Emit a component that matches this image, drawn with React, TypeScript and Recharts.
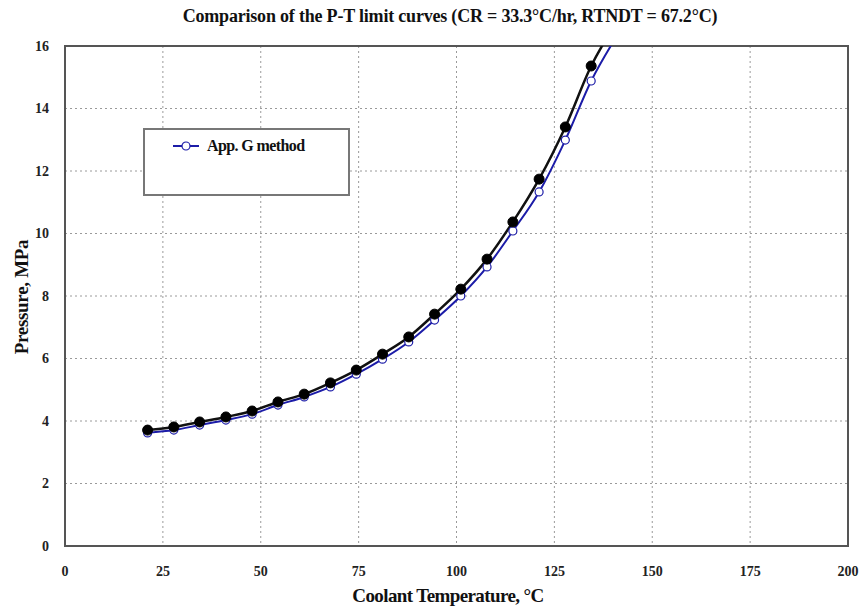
import React from 'react';
import { LineChart, Line, XAxis, YAxis, CartesianGrid, ReferenceArea } from 'recharts';

// Coolant temperature (°C) at each computed point; the last one lies above the 16 MPa frame
const temps = [21.1, 27.8, 34.4, 41.1, 47.8, 54.4, 61.1, 67.8, 74.4, 81.1, 87.8, 94.4, 101.1, 107.8, 114.4, 121.1, 127.8, 134.4, 141.1];
// P-T limit, black filled markers
const blackCurve = [3.71, 3.81, 3.97, 4.13, 4.32, 4.61, 4.86, 5.22, 5.63, 6.14, 6.69, 7.42, 8.22, 9.18, 10.37, 11.74, 13.41, 15.36, 16.8];
// App. G method, blue open markers
const appG = [3.62, 3.71, 3.87, 4.03, 4.22, 4.51, 4.77, 5.09, 5.5, 5.98, 6.53, 7.23, 8.0, 8.93, 10.08, 11.33, 12.99, 14.88, 16.35];
const xTicks = [0, 25, 50, 75, 100, 125, 150, 175, 200];
const yTicks = [0, 2, 4, 6, 8, 10, 12, 14, 16];

const data = temps.map((t, i) => ({ t, black: blackCurve[i], appG: appG[i] }));

const serif = '"Liberation Serif", "Times New Roman", serif';
const BLUE = '#1c1ca8';

const LegendBox = () => (
  <div
    style={{
      position: 'absolute',
      left: 143,
      top: 128,
      width: 207,
      height: 68,
      border: '2px solid #777',
      background: '#fff',
      boxSizing: 'border-box',
      fontFamily: serif,
      fontWeight: 'bold',
      fontSize: 16,
      color: '#111',
    }}
  >
    <div style={{ display: 'flex', alignItems: 'center', marginTop: 7, marginLeft: 28 }}>
      <svg width={26} height={12}>
        <line x1={0} y1={6} x2={26} y2={6} stroke={BLUE} strokeWidth={2} />
        <circle cx={13} cy={6} r={4} fill="#fff" stroke={BLUE} strokeWidth={1.2} />
      </svg>
      <span style={{ marginLeft: 8, letterSpacing: -0.6 }}>App. G method</span>
    </div>
  </div>
);

export default function App() {
  return (
    <div style={{ position: 'absolute', left: 0, top: 0, width: 868, height: 612, background: '#fff' }}>
      <div
        style={{
          position: 'absolute',
          left: 16,
          top: 6,
          width: 868,
          textAlign: 'center',
          fontFamily: serif,
          fontWeight: 'bold',
          fontSize: 18,
          letterSpacing: -0.2,
          color: '#111',
        }}
      >
        Comparison of the P-T limit curves (CR = 33.3°C/hr, RTNDT = 67.2°C)
      </div>
      <LineChart width={868} height={612} data={data} margin={{ top: 46, right: 20, bottom: 16, left: 25 }}>
        <CartesianGrid stroke="#9a9a9a" strokeDasharray="2 3" />
        <XAxis
          dataKey="t"
          type="number"
          domain={[0, 200]}
          ticks={xTicks}
          height={50}
          axisLine={false}
          tickLine={false}
          tickMargin={14}
          tick={{ fontFamily: serif, fontWeight: 'bold', fontSize: 14, fill: '#222' }}
        />
        <YAxis
          type="number"
          domain={[0, 16]}
          ticks={yTicks}
          allowDataOverflow
          width={40}
          axisLine={false}
          tickLine={false}
          tickMargin={10}
          tick={{ fontFamily: serif, fontWeight: 'bold', fontSize: 14, fill: '#222' }}
        />
        <ReferenceArea x1={0} x2={200} y1={0} y2={16} fill="none" stroke="#555" strokeWidth={2} ifOverflow="visible" />
        <Line
          dataKey="appG"
          type="monotone"
          stroke={BLUE}
          strokeWidth={2}
          dot={{ r: 4, fill: '#fff', stroke: BLUE, strokeWidth: 1.2 }}
          isAnimationActive={false}
        />
        <Line
          dataKey="black"
          type="monotone"
          stroke="#111"
          strokeWidth={2.5}
          dot={{ r: 5, fill: '#000', stroke: '#000', strokeWidth: 1 }}
          isAnimationActive={false}
        />
      </LineChart>
      <LegendBox />
      <div
        style={{
          position: 'absolute',
          left: 0,
          top: 585,
          width: 896,
          textAlign: 'center',
          fontFamily: serif,
          fontWeight: 'bold',
          fontSize: 19,
          letterSpacing: -0.6,
          color: '#111',
        }}
      >
        Coolant Temperature, °C
      </div>
      <div
        style={{
          position: 'absolute',
          left: 22,
          top: 297,
          transform: 'translate(-50%, -50%) rotate(-90deg)',
          whiteSpace: 'nowrap',
          fontFamily: serif,
          fontWeight: 'bold',
          fontSize: 19,
          letterSpacing: -0.3,
          color: '#111',
        }}
      >
        Pressure, MPa
      </div>
    </div>
  );
}
